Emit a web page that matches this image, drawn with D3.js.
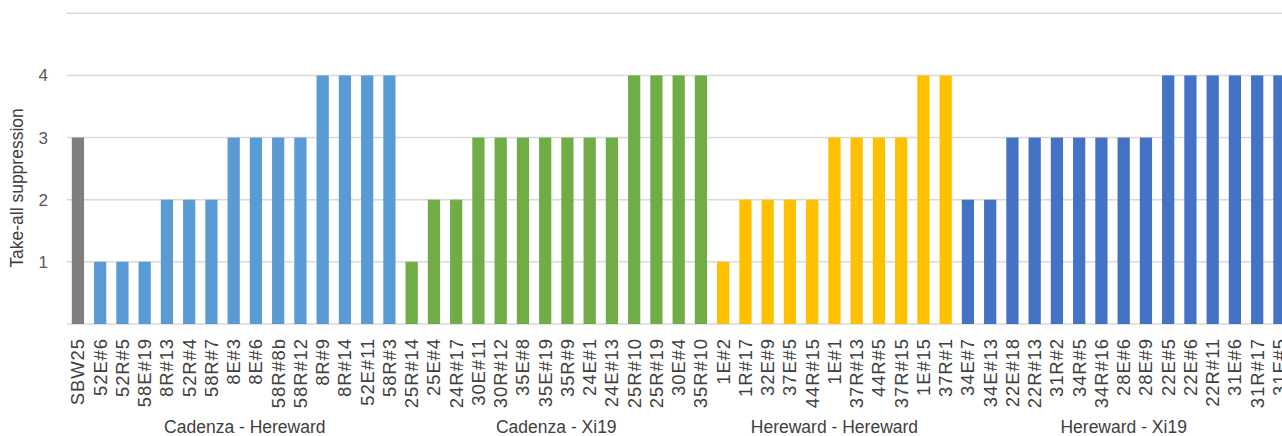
<!DOCTYPE html>
<html>
<head>
<meta charset="utf-8">
<script src="https://cdn.jsdelivr.net/npm/d3@7"></script>
<style>
html,body{margin:0;padding:0;background:#fff;overflow:hidden;}
svg{display:block;font-family:"Liberation Sans",Arial,sans-serif;}
</style>
</head>
<body>
<svg id="chart" width="1282" height="436"></svg>
<script>
// ---- data ----
const categories = ["SBW25",
  "52E#6","52R#5","58E#19","8R#13","52R#4","58R#7","8E#3","8E#6","58R#8b","58R#12","8R#9","8R#14","52E#11","58R#3",
  "25R#14","25E#4","24R#17","30E#11","30R#12","35E#8","35E#19","35R#9","24E#1","24E#13","25R#10","25R#19","30E#4","35R#10",
  "1E#2","1R#17","32E#9","37E#5","44R#15","1E#1","37R#13","44R#5","37R#15","1E#15","37R#1",
  "34E#7","34E#13","22E#18","22R#13","31R#2","34R#5","34R#16","28E#6","28E#9","22E#5","22E#6","22R#11","31E#6","31R#17","31E#5"];
const values = [3,
  1,1,1,2,2,2,3,3,3,3,4,4,4,4,
  1,2,2,3,3,3,3,3,3,3,4,4,4,4,
  1,2,2,2,2,3,3,3,3,4,4,
  2,2,3,3,3,3,3,3,3,4,4,4,4,4,4];
const groupNames = ["", "Cadenza - Hereward", "Cadenza - Xi19", "Hereward - Hereward", "Hereward - Xi19"];
const groupSizes = [1, 14, 14, 11, 15];
const groupColors = ["#7f7f7f", "#5b9bd5", "#70ad47", "#ffc000", "#4472c4"];
const yTicks = [1, 2, 3, 4];
const yGrid = [0, 1, 2, 3, 4, 5];
const yTitle = "Take-all suppression";

// ---- derived ----
const groupOf = [];
groupSizes.forEach((n, g) => { for (let i = 0; i < n; i++) groupOf.push(g); });

const svg = d3.select("#chart");
const plotLeft = 66.8, step = 22.25;
const plotTop = 13.3, plotBottom = 324;

const x = d3.scaleBand().domain(d3.range(categories.length))
  .range([plotLeft, plotLeft + step * categories.length])
  .paddingInner(0.45).paddingOuter(0.225);
const y = d3.scaleLinear().domain([0, 5]).range([plotBottom, plotTop]);

// gridlines
svg.append("g").selectAll("line").data(yGrid).join("line")
  .attr("x1", plotLeft).attr("x2", 1282)
  .attr("y1", d => y(d)).attr("y2", d => y(d))
  .attr("stroke", "#d9d9d9").attr("stroke-width", 1.5);

// y tick labels
svg.append("g").selectAll("text").data(yTicks).join("text")
  .attr("x", 48).attr("y", d => y(d)).attr("dy", "0.35em")
  .attr("text-anchor", "end").attr("font-size", 17).attr("fill", "#595959")
  .text(d => d);

// y title
svg.append("text")
  .attr("transform", "translate(16.5,188) rotate(-90)")
  .attr("text-anchor", "middle").attr("dy", "0.35em")
  .attr("font-size", 17.5).attr("fill", "#404040")
  .text(yTitle);

// bars
svg.append("g").selectAll("rect").data(values).join("rect")
  .attr("x", (d, i) => x(i)).attr("width", x.bandwidth())
  .attr("y", d => y(d)).attr("height", d => y(0) - y(d))
  .attr("fill", (d, i) => groupColors[groupOf[i]]);

// x category labels
svg.append("g").selectAll("text").data(categories).join("text")
  .attr("transform", (d, i) => `translate(${x(i) + x.bandwidth() / 2},338) rotate(-90)`)
  .attr("text-anchor", "end").attr("dy", "0.35em")
  .attr("font-size", 18.5).attr("letter-spacing", "0.9px").attr("fill", "#404040")
  .text(d => d);

// group labels
let start = 0;
groupSizes.forEach((n, g) => {
  const a = x(start) + x.bandwidth() / 2, b = x(start + n - 1) + x.bandwidth() / 2;
  if (groupNames[g]) {
    svg.append("text")
      .attr("x", (a + b) / 2).attr("y", 433)
      .attr("text-anchor", "middle").attr("font-size", 17.5).attr("fill", "#404040")
      .text(groupNames[g]);
  }
  start += n;
});
</script>
</body>
</html>
